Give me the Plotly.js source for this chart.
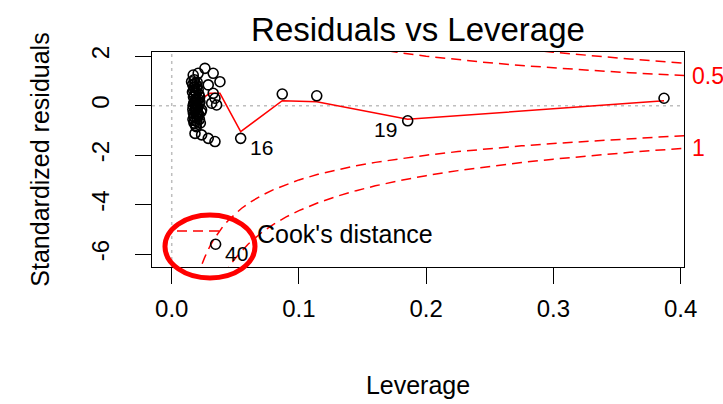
<!DOCTYPE html>
<html>
<head>
<meta charset="utf-8">
<script src="https://cdn.plot.ly/plotly-3.0.1.min.js"></script>
<style>html,body{margin:0;padding:0;background:#fff;}#chart{width:723px;height:404px;}</style>
</head>
<body>
<div id="chart"></div>
<script>
// Observed points (leverage, standardized residual)
var leverage = [
  0.0169, 0.0261, 0.0326, 0.0208, 0.0379, 0.0156, 0.0287, 0.0326, 0.0340, 0.0314, 0.0353,
  0.0183, 0.0235, 0.0287, 0.0340, 0.0235,
  0.0165, 0.0172, 0.0178, 0.0185, 0.0190, 0.0196, 0.0202, 0.0210, 0.0218, 0.0225,
  0.0170, 0.0180, 0.0188, 0.0195, 0.0205, 0.0215, 0.0168, 0.0176, 0.0192, 0.0200,
  0.0183, 0.0174, 0.0198, 0.0222,
  0.0163, 0.0171, 0.0179, 0.0187, 0.0194, 0.0201, 0.0208, 0.0166, 0.0175, 0.0184,
  0.0191, 0.0199, 0.0207, 0.0214, 0.0167, 0.0177, 0.0186, 0.0193, 0.0203, 0.0212,
  0.0220, 0.0230, 0.0173, 0.0189,
  0.0542, 0.0869, 0.1140, 0.1855, 0.3870, 0.0345
];
var stdResiduals = [
  1.24, 1.51, 1.31, 1.31, 0.97, 0.97, 0.84, 0.50, 0.30, 0.10, 0.03,
  -1.12, -1.18, -1.32, -1.45, -0.17,
  0.85, 0.62, 0.40, 0.20, 0.05, -0.10, -0.25, -0.40, -0.55, -0.70,
  -0.30, -0.60, -0.80, 0.70, 0.30, 0.10, 0.00, -0.45, 0.50, 0.95,
  -0.20, 0.75, -0.65, 0.15,
  0.55, 0.35, 0.15, -0.05, -0.35, -0.50, 0.65, -0.15, -0.70, 0.90,
  0.25, 0.80, -0.05, 0.45, -0.55, 1.05, 0.60, -0.85, 0.20, -0.35,
  0.35, -0.25, 0.10, -0.15,
  -1.32, 0.47, 0.40, -0.61, 0.30, -5.60
];

// Red smoother
var smoothLev = [0.0183, 0.0300, 0.0379, 0.0542, 0.0869, 0.1140, 0.1855, 0.3870];
var smoothRes = [0.10, 0.50, 0.50, -1.05, 0.20, 0.16, -0.55, 0.20];

// Cook's distance contours
var cookLev = [0.02, 0.022, 0.024, 0.026, 0.028, 0.03, 0.033, 0.036, 0.04, 0.045, 0.05, 0.055, 0.06,
  0.07, 0.08, 0.09, 0.1, 0.115, 0.13, 0.145, 0.16, 0.18, 0.2, 0.225, 0.25, 0.275, 0.3, 0.33, 0.36, 0.38, 0.4027];
var cook05 = [7.000, 6.667, 6.377, 6.121, 5.892, 5.686, 5.413, 5.175, 4.899, 4.607, 4.359, 4.145, 3.958,
  3.645, 3.391, 3.180, 3.000, 2.774, 2.587, 2.428, 2.291, 2.134, 2.000, 1.856, 1.732, 1.624, 1.528, 1.425, 1.333, 1.277, 1.218];
var cook1 = [9.899, 9.429, 9.018, 8.656, 8.333, 8.041, 7.655, 7.319, 6.928, 6.515, 6.164, 5.862, 5.598,
  5.155, 4.796, 4.497, 4.243, 3.923, 3.659, 3.434, 3.240, 3.018, 2.828, 2.625, 2.449, 2.297, 2.161, 2.015, 1.885, 1.806, 1.722];
var cook05Neg = cook05.map(function (v) { return -v; });
var cook1Neg = cook1.map(function (v) { return -v; });

// Labelled observations
var labelIds = ["16", "19", "40"];
var labelLev = [0.0542, 0.1855, 0.0345];
var labelRes = [-1.32, -0.61, -5.60];
var labelShift = [21, -22, 21];

var xTicks = [0.0, 0.1, 0.2, 0.3, 0.4];
var xTickText = ["0.0", "0.1", "0.2", "0.3", "0.4"];
var yTicks = [-6, -4, -2, 0, 2];
var yTickText = ["-6", "-4", "-2", "0", "2"];

var FONT = "Liberation Sans, Arial, Helvetica, sans-serif";
var dashRed = {color: "#ff0000", width: 1.5, dash: "10px,6px"};

var traces = [
  {x: cookLev, y: cook05, mode: "lines", line: dashRed, hoverinfo: "skip", showlegend: false},
  {x: cookLev, y: cook05Neg, mode: "lines", line: dashRed, hoverinfo: "skip", showlegend: false},
  {x: cookLev, y: cook1, mode: "lines", line: dashRed, hoverinfo: "skip", showlegend: false},
  {x: cookLev, y: cook1Neg, mode: "lines", line: dashRed, hoverinfo: "skip", showlegend: false},
  {x: smoothLev, y: smoothRes, mode: "lines", line: {color: "#ff0000", width: 1.5}, showlegend: false},
  {x: leverage, y: stdResiduals, mode: "markers", showlegend: false,
   marker: {symbol: "circle-open", size: 10, color: "#000", line: {width: 1.6, color: "#000"}}}
];

var annotations = [];
for (var i = 0; i < labelIds.length; i++) {
  annotations.push({x: labelLev[i], y: labelRes[i], xref: "x", yref: "y", text: labelIds[i],
    showarrow: false, xshift: labelShift[i], yshift: -9, font: {family: FONT, size: 21, color: "#000"}});
}
annotations.push({x: 1.011, y: cook05[cook05.length - 1], xref: "paper", yref: "y", text: "0.5",
  xanchor: "left", yanchor: "middle", showarrow: false, font: {family: FONT, size: 23, color: "#ff0000"}});
annotations.push({x: 1.011, y: cook1Neg[cook1Neg.length - 1], xref: "paper", yref: "y", text: "1",
  xanchor: "left", yanchor: "middle", showarrow: false, font: {family: FONT, size: 23, color: "#ff0000"}});
annotations.push({x: 0.1936, y: 0.1535, xref: "paper", yref: "paper", text: "Cook's distance",
  xanchor: "left", yanchor: "middle", showarrow: false, font: {family: FONT, size: 25, color: "#000"}});

var shapes = [
  {type: "line", xref: "x", yref: "paper", x0: 0, x1: 0, y0: 0, y1: 1, layer: "below",
   line: {color: "#bebebe", width: 1.5, dash: "3px,4px"}},
  {type: "line", xref: "paper", yref: "y", x0: 0, x1: 1, y0: 0, y1: 0, layer: "below",
   line: {color: "#bebebe", width: 1.5, dash: "3px,4px"}},
  {type: "line", xref: "paper", yref: "paper", x0: 0.047, x1: 0.128, y0: 0.1674, y1: 0.1674,
   line: {color: "#ff0000", width: 1.5, dash: "10px,6px"}},
  {type: "circle", xref: "paper", yref: "paper", x0: 0.0244, x1: 0.1936, y0: -0.0512, y1: 0.2419,
   layer: "above", line: {color: "#ff0000", width: 5}}
];

var layout = {
  width: 723, height: 404,
  margin: {l: 152, r: 39, t: 52, b: 137, pad: 0},
  paper_bgcolor: "#fff", plot_bgcolor: "#fff",
  font: {family: FONT, color: "#000"},
  title: {text: "Residuals vs Leverage", x: 0.5, xanchor: "center", xref: "paper",
          y: 0.928, yref: "container", yanchor: "middle",
          font: {family: FONT, size: 33, color: "#000"}},
  xaxis: {range: [-0.0155, 0.4027], tickvals: xTicks, ticktext: xTickText,
          showgrid: false, zeroline: false, showline: true, mirror: true, linecolor: "#000", linewidth: 1,
          ticks: "outside", ticklen: 16, tickcolor: "#000", tickwidth: 1, ticklabelstandoff: 4,
          tickfont: {family: FONT, size: 24, color: "#000"},
          title: {text: "Leverage", standoff: 55, font: {family: FONT, size: 25, color: "#000"}}},
  yaxis: {range: [-6.52, 2.17], tickvals: yTicks, ticktext: yTickText, tickangle: -90,
          showgrid: false, zeroline: false, showline: true, mirror: true, linecolor: "#000", linewidth: 1,
          ticks: "outside", ticklen: 16, tickcolor: "#000", tickwidth: 1, ticklabelstandoff: 16,
          tickfont: {family: FONT, size: 24, color: "#000"},
          title: {text: "Standardized residuals", standoff: 30, font: {family: FONT, size: 25, color: "#000"}}},
  annotations: annotations,
  shapes: shapes
};

Plotly.newPlot("chart", traces, layout, {staticPlot: true, displayModeBar: false});
</script>
</body>
</html>
